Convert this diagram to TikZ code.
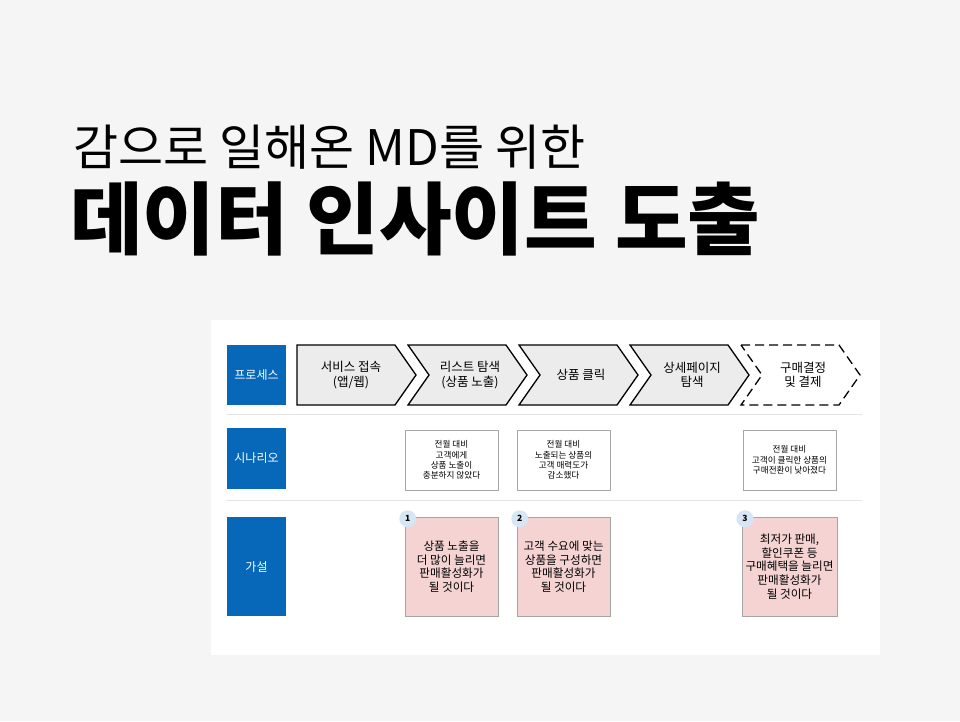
\documentclass[tikz,border=0pt]{standalone}
\usepackage{fontspec}
\setmainfont{Noto Sans CJK KR}
\usetikzlibrary{positioning}
\definecolor{bgpage}{HTML}{F5F5F5}
\definecolor{labelblue}{HTML}{0767B8}
\definecolor{hypopink}{HTML}{F5D3D3}
\definecolor{badgeblue}{HTML}{D7E6F5}
\definecolor{rulegray}{HTML}{E3E3E3}
\tikzset{
  lanelabel/.style={
      fill=labelblue,
      text=white,
      minimum width=59pt,
      font=\fontsize{12}{14}\selectfont,
  },
  scenariobox/.style={
      draw=gray!70,
      fill=white,
      minimum width=93pt,
      minimum height=60pt,
      align=center,
      font=\fontsize{8.6}{10.4}\selectfont,
  },
  hypobox/.style={
      draw=gray!70,
      fill=hypopink,
      minimum width=93pt,
      minimum height=99pt,
      align=center,
      font=\fontsize{11.6}{13.6}\selectfont,
  },
  badge/.style={
      circle,
      fill=badgeblue,
      inner sep=0pt,
      minimum size=17pt,
      font=\fontsize{8.5}{10}\selectfont\bfseries,
  },
  steptext/.style={
      align=center,
      font=\fontsize{12.5}{14.5}\selectfont,
  },
  chevron/.style={
      draw,
      line width=1.3pt,
      fill=gray!15,
  },
}
\begin{document}
\begin{tikzpicture}[x=1pt,y=-1pt]
  \fill[bgpage] (0,0) rectangle (960,721);
  \useasboundingbox (0,0) rectangle (960,721);
  \fill[white] (211,320) rectangle (880,655);

  % title
  \node[anchor=base west,inner sep=0pt,font=\fontsize{49}{56}\selectfont] (title1) at (73,165) {감으로 일해온 MD를 위한};
  \node[anchor=base west,inner sep=0pt,font=\fontsize{79}{88}\selectfont\bfseries] (title2) at (70,248) {데이터 인사이트 도출};

  % lanes
  \node[lanelabel,minimum height=60pt] (process) at (256.5,375) {프로세스};
  \node[lanelabel,minimum height=61pt] (scenario) at (256.5,458) {시나리오};
  \node[lanelabel,minimum height=99pt] (hypo) at (256.5,566.5) {가설};
  \draw[rulegray] (227,414) -- (862,414);
  \draw[rulegray] (227,500) -- (862,500);

  % process chevrons
  \draw[chevron] (297,345) -- (395,345) -- (416,375) -- (395,405) -- (297,405) -- cycle;
  \foreach \x in {408,519,630} {
    \draw[chevron] (\x,345) -- (\x+98,345) -- (\x+119,375) -- (\x+98,405) -- (\x,405) -- (\x+21,375) -- cycle;
  }
  \draw[line width=1.3pt,dash pattern=on 9pt off 5pt] (741,345) -- (839,345) -- (860,375) -- (839,405) -- (741,405) -- (762,375) -- cycle;
  \node[steptext] (s1) at (351,375) {서비스 접속\\(앱/웹)};
  \node[steptext] (s2) at (470,375) {리스트 탐색\\(상품 노출)};
  \node[steptext] (s3) at (581,375) {상품 클릭};
  \node[steptext] (s4) at (692,375) {상세페이지\\탐색};
  \node[steptext] (s5) at (803,375) {구매결정\\및 결제};

  % scenarios
  \node[scenariobox] (sc1) at (451.5,460) {전월 대비\\고객에게\\상품 노출이\\충분하지 않았다};
  \node[scenariobox] (sc2) at (563.5,460) {전월 대비\\노출되는 상품의\\고객 매력도가\\감소했다};
  \node[scenariobox] (sc3) at (789.5,460) {전월 대비\\고객이 클릭한 상품의\\구매전환이 낮아졌다};

  % hypotheses
  \node[hypobox] (h1) at (451.5,566.5) {상품 노출을\\더 많이 늘리면\\판매활성화가\\될 것이다};
  \node[hypobox] (h2) at (563.5,566.5) {고객 수요에 맞는\\상품을 구성하면\\판매활성화가\\될 것이다};
  \node[hypobox] (h3) at (789.5,566.5) {최저가 판매,\\할인쿠폰 등\\구매혜택을 늘리면\\판매활성화가\\될 것이다};
  \node[badge] (b1) at ([shift={(3,2)}]h1.north west) {1};
  \node[badge] (b2) at ([shift={(3,2)}]h2.north west) {2};
  \node[badge] (b3) at ([shift={(3,2)}]h3.north west) {3};
\end{tikzpicture}
\end{document}
